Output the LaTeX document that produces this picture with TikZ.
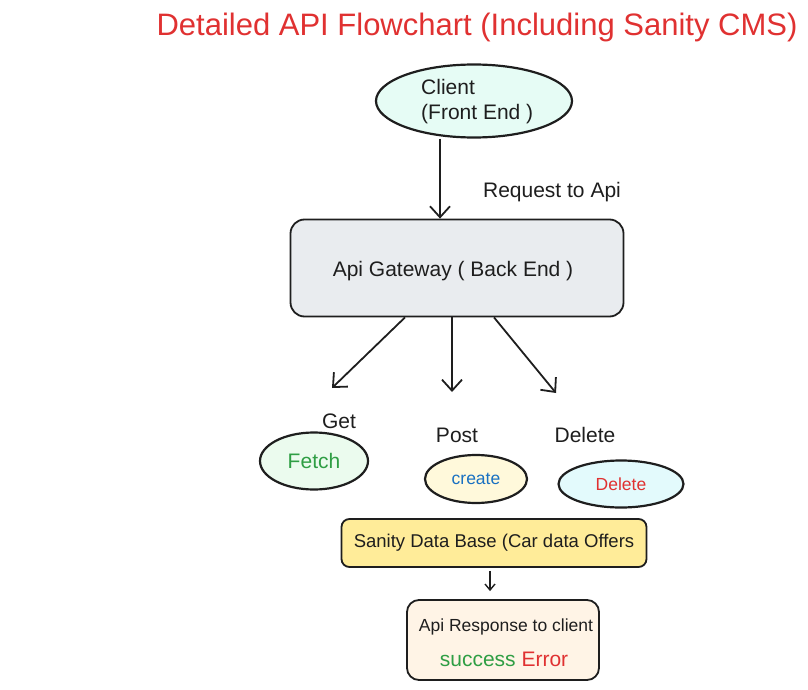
\documentclass[tikz,border=0pt]{standalone}
\usepackage{fontspec}
\setmainfont{Liberation Sans}
\usepackage{tikz}
\usetikzlibrary{positioning, arrows.meta, shapes.geometric}

\definecolor{redink}{HTML}{E03131}
\definecolor{greenink}{HTML}{2F9E44}
\definecolor{blueink}{HTML}{1971C2}
\definecolor{clientfill}{HTML}{E6FCF5}
\definecolor{gatefill}{HTML}{E9ECEF}
\definecolor{fetchfill}{HTML}{EBFBEE}
\definecolor{createfill}{HTML}{FFF9DB}
\definecolor{deletefill}{HTML}{E3FAFC}
\definecolor{dbfill}{HTML}{FFEC99}
\definecolor{respfill}{HTML}{FFF4E6}
\definecolor{ink}{HTML}{1E1E1E}

\begin{document}
\begin{tikzpicture}[x=1pt, y=-1pt]
  \tikzstyle{txt}=[font=\fontsize{21}{25}\selectfont, text=ink, inner sep=0pt]
  \tikzstyle{oval}=[ellipse, draw=ink, line width=2.2pt, inner sep=0pt]
  \tikzstyle{block}=[rectangle, rounded corners=14pt, draw=ink, line width=1.8pt, inner sep=0pt]
  \tikzstyle{link}=[draw=ink, line width=1.8pt, -{Straight Barb[length=11pt, width=20pt, line width=1.8pt]}]

  \useasboundingbox (0,0) rectangle (808,690);

  \node (title) at (477,27) [font=\fontsize{31}{36}\selectfont, text=redink]
    {Detailed API Flowchart (Including Sanity CMS)};

  \node (client) at (474,101) [oval, fill=clientfill, minimum width=196pt, minimum height=73pt] {};
  \node (clienttxt) at (421,102) [txt, anchor=west, align=left] {Client\\(Front End )};

  \node (gateway) at (457,268) [block, fill=gatefill, minimum width=333pt, minimum height=97pt] {};
  \node (gatetxt) at (453,271) [txt] {Api Gateway ( Back End )};
  \node (req) at (552,192) [txt] {Request to Api};

  \node (get) at (339,421) [txt] {Get};
  \node (post) at (457,435) [txt] {Post};
  \node (del) at (585,435) [txt] {Delete};

  \node (fetch) at (314,461) [oval, fill=fetchfill, minimum width=108pt, minimum height=57pt]
    [txt, text=greenink] {Fetch};
  \node (create) at (476,479) [oval, fill=createfill, minimum width=102pt, minimum height=48pt]
    [font=\fontsize{17.5}{20}\selectfont, text=blueink] {create};
  \node (delete) at (621,484) [oval, fill=deletefill, minimum width=125pt, minimum height=47pt]
    [font=\fontsize{17.5}{20}\selectfont, text=redink] {Delete};

  \node (sanity) at (494,543) [block, rounded corners=8pt, fill=dbfill, minimum width=305pt, minimum height=48pt]
    [font=\fontsize{18.5}{22}\selectfont, text=ink] {Sanity Data Base (Car data Offers};

  \node (response) at (503,640) [block, rounded corners=12pt, fill=respfill, minimum width=192pt, minimum height=80pt] {};
  \node (resptxt) at (506,627) [font=\fontsize{17.5}{20}\selectfont, text=ink] {Api Response to client};
  \node (status) at (504,659) [font=\fontsize{21}{25}\selectfont]
    {\textcolor{greenink}{success} \textcolor{redink}{Error}};

  % free ends of the three method arrows
  \coordinate (getend) at (332,388);
  \coordinate (postend) at (452,392);
  \coordinate (delend) at (556,393);

  \draw [link] (client.south -| 440,0) -- (gateway.north -| 440,0);
  \draw [link] (gateway.south -| 405,0) -- (getend);
  \draw [link] (gateway.south -| 452,0) -- (postend);
  \draw [link] (gateway.south -| 494,0) -- (delend);
  \draw [link, line width=1.4pt, -{Straight Barb[length=6pt, width=10pt, line width=1.4pt]}]
    (sanity.south -| 490,0) ++(0,3) -- ([yshift=8pt]response.north -| 490,0);

\end{tikzpicture}
\end{document}
